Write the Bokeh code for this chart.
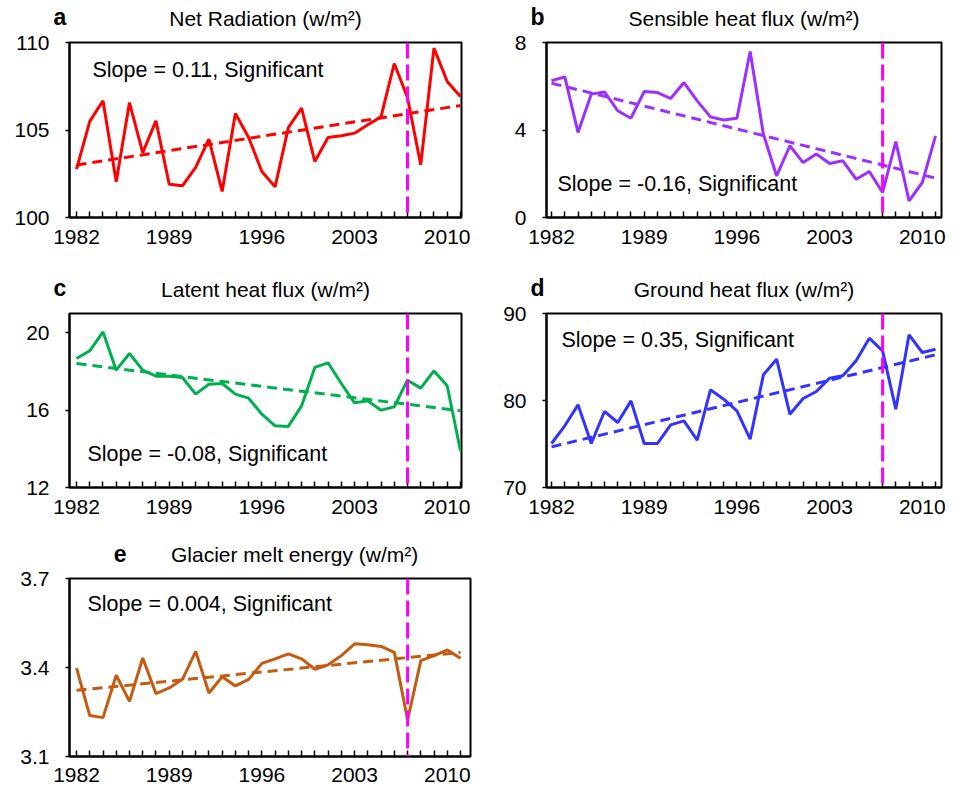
from bokeh.plotting import figure
from bokeh.layouts import column, row
from bokeh.models import Range1d, FixedTicker, Label, Span
from bokeh.embed import file_html
from bokeh.resources import INLINE

# ---------------- data ----------------
years = list(range(1982, 2012))
label_years = [1982, 1989, 1996, 2003, 2010]
break_year = 2007
trend_years = [1982, 2011]

net_radiation = [102.76, 105.49, 106.67, 102.04, 106.57, 103.71, 105.52, 101.90, 101.81, 102.86,
                 104.48, 101.49, 105.94, 104.57, 102.63, 101.75, 105.14, 106.25, 103.20, 104.57,
                 104.67, 104.82, 105.30, 105.75, 108.80, 106.86, 103.01, 109.68, 107.77, 106.91]
net_radiation_trend = [103.0, 106.4]

sensible_heat = [6.25, 6.43, 3.89, 5.64, 5.74, 4.88, 4.54, 5.76, 5.71, 5.44,
                 6.17, 5.33, 4.60, 4.46, 4.54, 7.59, 3.81, 1.90, 3.28, 2.51,
                 2.90, 2.47, 2.59, 1.75, 2.10, 1.14, 3.47, 0.76, 1.60, 3.73]
sensible_heat_trend = [6.14, 1.80]

latent_heat = [18.67, 19.07, 20.05, 18.07, 18.93, 18.07, 17.76, 17.76, 17.69, 16.83,
               17.34, 17.38, 16.83, 16.62, 15.79, 15.19, 15.16, 16.22, 18.21, 18.45,
               17.38, 16.38, 16.48, 16.00, 16.17, 17.55, 17.14, 18.03, 17.26, 13.90]
latent_heat_trend = [18.41, 15.97]

ground_heat = [75.06, 77.09, 79.50, 75.06, 78.74, 77.47, 79.96, 75.06, 75.06, 77.20,
               77.66, 75.44, 81.23, 80.15, 78.81, 75.56, 82.95, 84.75, 78.43, 80.23,
               81.03, 82.57, 82.84, 84.56, 87.16, 85.71, 79.00, 87.55, 85.52, 85.90]
ground_heat_trend = [74.67, 85.25]

melt_energy = [3.398, 3.238, 3.231, 3.374, 3.286, 3.432, 3.312, 3.331, 3.360, 3.454,
               3.314, 3.369, 3.338, 3.360, 3.414, 3.429, 3.446, 3.429, 3.394, 3.409,
               3.440, 3.480, 3.477, 3.471, 3.451, 3.223, 3.423, 3.440, 3.459, 3.431]
melt_energy_trend = [3.323, 3.451]

FONT = "Liberation Sans"
TICK_FS = "21px"
TEXT_FS = "21.5px"


def header(letter, title, width, height, frame_left, frame_width):
    h = figure(width=width, height=height, output_backend="svg", toolbar_location=None,
               x_axis_type=None, y_axis_type=None,
               x_range=Range1d(0, width), y_range=Range1d(0, height),
               min_border_left=0, min_border_right=0, min_border_top=0, min_border_bottom=0)
    h.grid.visible = False
    h.outline_line_color = None
    h.background_fill_color = "white"
    h.border_fill_color = "white"
    h.add_layout(Label(x=frame_left + frame_width / 2, y=12.2, text=title,
                       text_align="center", text_baseline="middle", text_font=FONT,
                       text_font_size="21px", text_color="black"))
    h.add_layout(Label(x=frame_left - 16, y=13.2, text=letter,
                       text_align="left", text_baseline="middle", text_font=FONT,
                       text_font_size="23px", text_font_style="bold", text_color="black"))
    return h


def panel(values, trend, color, yr, yticks, slope_text,
          width, height, bl, br, bb, xr, slope_pos, x_standoff):
    p = figure(width=width, height=height, output_backend="svg", toolbar_location=None,
               x_range=Range1d(*xr), y_range=Range1d(*yr),
               min_border_left=bl, min_border_right=br, min_border_top=12, min_border_bottom=bb)
    p.background_fill_color = "white"
    p.border_fill_color = "white"
    p.outline_line_color = "black"
    p.outline_line_width = 2
    p.xgrid.visible = False
    p.ygrid.visible = False

    p.xaxis.ticker = FixedTicker(ticks=years)
    p.xaxis.major_label_overrides = {y: (str(y) if y in label_years else "") for y in years}
    p.xaxis.major_tick_in = 6
    p.xaxis.major_tick_out = 0
    p.xaxis.minor_tick_line_color = None
    p.xaxis.major_label_standoff = x_standoff

    p.yaxis.ticker = FixedTicker(ticks=yticks)
    p.yaxis.major_label_overrides = {t: ("%g" % t) for t in yticks}
    p.yaxis.major_tick_in = 0
    p.yaxis.major_tick_out = 4
    p.yaxis.minor_tick_line_color = None
    p.yaxis.major_label_standoff = 16

    for ax in (p.xaxis, p.yaxis):
        ax.axis_line_width = 2
        ax.axis_line_color = "black"
        ax.major_tick_line_width = 1.5
        ax.major_tick_line_color = "black"
        ax.major_label_text_font = FONT
        ax.major_label_text_font_size = TICK_FS
        ax.major_label_text_color = "black"

    p.line(years, values, line_color=color, line_width=3)
    p.line(trend_years, trend, line_color=color, line_width=3, line_dash="10 6")
    p.add_layout(Span(location=break_year, dimension="height", line_color="#FF00FF",
                      line_width=3, line_dash="16 6"))

    dx, where, dy = slope_pos
    if where == "top":
        lab = Label(x=xr[0], x_offset=dx, y=yr[1], y_offset=-dy, text=slope_text)
    else:
        lab = Label(x=xr[0], x_offset=dx, y=yr[0], y_offset=dy, text=slope_text)
    lab.text_align = "left"
    lab.text_baseline = "middle"
    lab.text_font = FONT
    lab.text_font_size = TEXT_FS
    lab.text_color = "black"
    p.add_layout(lab)
    return p


xr_left = (1981.47, 2011.08)
xr_right = (1981.62, 2011.45)
xr_e = (1981.47, 2011.75)

WL, WR, WE = 485, 466, 480

ha = header("a", "Net Radiation (w/m²)", WL, 30, 69, 392)
hb = header("b", "Sensible heat flux (w/m²)", WR, 30, 61, 395)
pa = panel(net_radiation, net_radiation_trend, "#FF0000",
           (100, 110), [100, 105, 110], "Slope = 0.11, Significant",
           WL, 245, 69, 24, 58, xr_left, (23, "top", 27), 12)
pb = panel(sensible_heat, sensible_heat_trend, "#9B30FF",
           (0, 8), [0, 4, 8], "Slope = -0.16, Significant",
           WR, 245, 61, 10, 58, xr_right, (11, "bottom", 34), 12)

hc = header("c", "Latent heat flux (w/m²)", WL, 26, 69, 392)
hd = header("d", "Ground heat flux (w/m²)", WR, 26, 61, 395)
pc = panel(latent_heat, latent_heat_trend, "#00B050",
           (12, 21), [12, 16, 20], "Slope = -0.08, Significant",
           WL, 239, 69, 24, 53, xr_left, (18, "bottom", 34), 12)
pd = panel(ground_heat, ground_heat_trend, "#3333FF",
           (70, 90), [70, 80, 90], "Slope = 0.35, Significant",
           WR, 239, 61, 10, 53, xr_right, (15, "top", 26), 12)

he = header("e", "Glacier melt energy (w/m²)", WE, 26, 69, 401)
pe = panel(melt_energy, melt_energy_trend, "#C55A11",
           (3.1, 3.7), [3.1, 3.4, 3.7], "Slope = 0.004, Significant",
           WE, 220, 69, 10, 30, xr_e, (18, "top", 25), 11)

layout = column(row(ha, hb), row(pa, pb), row(hc, hd), row(pc, pd), he, pe)

with open("out.html", "w") as f:
    f.write(file_html(layout, INLINE))
